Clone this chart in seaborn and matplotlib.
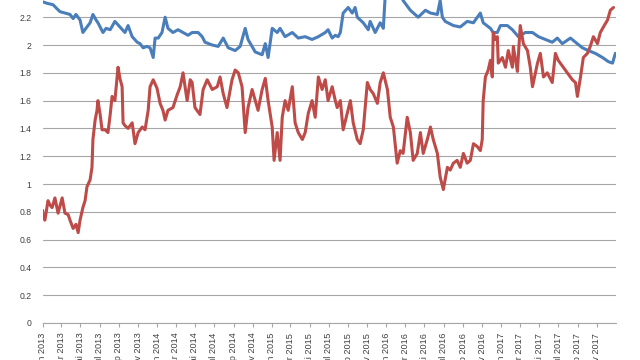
import numpy as np
import pandas as pd
import matplotlib
matplotlib.use("Agg")
import matplotlib.pyplot as plt
import matplotlib.dates as mdates
import seaborn as sns

# ---- data (day offsets from 2013-01-01, values) ----
blue_days = [1, 14, 33, 46, 55, 71, 87, 97, 106, 119, 128, 141, 151, 160, 170, 176, 192, 202, 215, 230,
             246, 262, 272, 285, 301, 310, 320, 332, 342, 352, 358, 368, 380, 390, 399, 415, 431, 447, 463, 476,
             495, 508, 517, 540, 559, 575, 591, 613, 629, 645, 654, 677, 699, 709, 718, 731, 747, 756, 772, 795,
             814, 836, 858, 878, 900, 909, 922, 932, 941, 948, 957, 973, 986, 995, 1002, 1021, 1037, 1043, 1059, 1075,
             1085, 1091, 1107, 1123, 1139, 1148, 1171, 1196, 1219, 1235, 1257, 1266, 1273, 1282, 1308, 1330, 1352, 1372, 1378, 1394,
             1403, 1426, 1435, 1448, 1458, 1480, 1496, 1515, 1537, 1560, 1579, 1601, 1623, 1639, 1655, 1681, 1697, 1719, 1738, 1760,
             1783, 1802, 1815, 1824]
blue_vals = [2.31, 2.30, 2.29, 2.26, 2.24, 2.23, 2.22, 2.19, 2.22, 2.18, 2.09, 2.13, 2.16, 2.22, 2.18, 2.16, 2.09, 2.12, 2.11, 2.17,
             2.13, 2.09, 2.14, 2.06, 2.02, 2.01, 1.98, 1.99, 1.98, 1.91, 2.05, 2.05, 2.09, 2.20, 2.12, 2.09, 2.11, 2.09, 2.07, 2.09,
             2.09, 2.06, 2.02, 2.00, 1.99, 2.05, 1.98, 1.96, 1.99, 2.12, 2.04, 1.95, 1.93, 2.01, 1.91, 2.12, 2.09, 2.12, 2.06, 2.09,
             2.05, 2.06, 2.04, 2.06, 2.09, 2.11, 2.05, 2.07, 2.06, 2.09, 2.23, 2.27, 2.23, 2.27, 2.20, 2.16, 2.11, 2.17, 2.09, 2.16,
             2.12, 2.36, 2.40, 2.42, 2.38, 2.32, 2.25, 2.20, 2.25, 2.23, 2.22, 2.32, 2.20, 2.17, 2.14, 2.13, 2.17, 2.16, 2.18, 2.23,
             2.16, 2.12, 2.09, 2.09, 2.14, 2.14, 2.11, 2.06, 2.09, 2.09, 2.06, 2.04, 2.02, 2.05, 2.01, 2.05, 2.02, 1.98, 1.96, 1.94,
             1.91, 1.88, 1.87, 1.94]

red_days = [0, 1, 7, 17, 23, 30, 39, 49, 62, 71, 81, 87, 97, 106, 113, 119, 128, 135, 141, 151,
            157, 160, 167, 173, 176, 183, 189, 199, 208, 215, 221, 230, 240, 246, 253, 256, 262, 272, 285, 294,
            304, 317, 326, 336, 342, 352, 364, 374, 383, 390, 399, 415, 428, 438, 447, 460, 470, 476, 485, 501,
            511, 524, 540, 556, 565, 575, 587, 603, 613, 623, 635, 645, 654, 667, 677, 686, 699, 709, 718, 731,
            737, 747, 756, 763, 772, 782, 795, 804, 814, 827, 836, 846, 858, 868, 878, 890, 900, 909, 922, 932,
            938, 948, 957, 970, 980, 989, 1002, 1011, 1021, 1034, 1043, 1053, 1066, 1075, 1085, 1098, 1107, 1117, 1129, 1139,
            1148, 1161, 1171, 1180, 1193, 1203, 1212, 1225, 1235, 1244, 1257, 1266, 1276, 1289, 1298, 1308, 1320, 1330, 1340, 1352,
            1362, 1372, 1384, 1394, 1400, 1403, 1410, 1419, 1426, 1432, 1435, 1442, 1448, 1451, 1464, 1474, 1483, 1496, 1499, 1512,
            1521, 1531, 1544, 1553, 1560, 1576, 1585, 1595, 1607, 1623, 1633, 1642, 1658, 1671, 1687, 1697, 1703, 1713, 1722, 1735,
            1744, 1754, 1767, 1776, 1786, 1799, 1808, 1818]
red_vals = [0.81, 0.76, 0.74, 0.88, 0.85, 0.83, 0.90, 0.79, 0.90, 0.79, 0.78, 0.74, 0.68, 0.71, 0.65, 0.74, 0.83, 0.88, 0.98, 1.03,
            1.12, 1.32, 1.46, 1.53, 1.60, 1.50, 1.39, 1.39, 1.37, 1.50, 1.63, 1.60, 1.84, 1.76, 1.70, 1.44, 1.42, 1.40, 1.44, 1.29,
            1.37, 1.41, 1.39, 1.53, 1.70, 1.75, 1.69, 1.58, 1.53, 1.46, 1.53, 1.55, 1.64, 1.70, 1.80, 1.60, 1.75, 1.73, 1.55, 1.50,
            1.68, 1.75, 1.68, 1.70, 1.77, 1.65, 1.55, 1.75, 1.82, 1.80, 1.70, 1.37, 1.55, 1.68, 1.60, 1.53, 1.68, 1.76, 1.60, 1.41,
            1.17, 1.37, 1.17, 1.48, 1.60, 1.53, 1.70, 1.44, 1.37, 1.32, 1.37, 1.51, 1.60, 1.48, 1.77, 1.68, 1.75, 1.60, 1.70, 1.60,
            1.55, 1.60, 1.39, 1.51, 1.60, 1.44, 1.32, 1.29, 1.39, 1.73, 1.68, 1.65, 1.58, 1.73, 1.80, 1.68, 1.48, 1.41, 1.15, 1.24,
            1.22, 1.48, 1.37, 1.17, 1.22, 1.37, 1.22, 1.32, 1.41, 1.32, 1.22, 1.05, 0.96, 1.12, 1.10, 1.15, 1.17, 1.12, 1.22, 1.15,
            1.17, 1.29, 1.27, 1.24, 1.32, 1.60, 1.77, 1.82, 1.89, 1.77, 2.09, 2.04, 2.06, 1.87, 1.91, 1.84, 1.96, 1.84, 1.99, 1.81,
            2.14, 2.01, 1.96, 1.84, 1.70, 1.87, 1.94, 1.77, 1.80, 1.73, 1.94, 1.89, 1.84, 1.80, 1.75, 1.73, 1.63, 1.77, 1.91, 1.94,
            1.99, 2.06, 2.01, 2.09, 2.13, 2.18, 2.25, 2.27]

series_names = ["Serie 1", "Serie 2"]
month_abbr = ["jan", "feb", "mar", "apr", "mai", "jun", "jul", "aug", "sep", "okt", "nov", "des"]
y_ticks = [0, 0.2, 0.4, 0.6, 0.8, 1, 1.2, 1.4, 1.6, 1.8, 2, 2.2, 2.4]

start = pd.Timestamp("2013-01-01")
df = pd.concat([
    pd.DataFrame({"date": start + pd.to_timedelta(blue_days, unit="D"), "value": blue_vals, "series": series_names[0]}),
    pd.DataFrame({"date": start + pd.to_timedelta(red_days, unit="D"), "value": red_vals, "series": series_names[1]}),
])

sns.set_style("white")
plt.rcParams["font.family"] = ["Liberation Sans", "DejaVu Sans"]

fig = plt.figure(figsize=(6.4, 3.6), dpi=100)
ax = fig.add_axes([0.0667, 0.1028, 0.8953, 0.9266])

sns.lineplot(data=df, x="date", y="value", hue="series", estimator=None,
             palette={"Serie 1": "#4A7EBB", "Serie 2": "#BE4B48"},
             linewidth=2.2, legend=False, ax=ax)

ax.set_xlim(pd.Timestamp("2013-01-01"), pd.Timestamp("2017-12-31"))
ax.set_ylim(0, 2.4)
ax.set_xlabel("")
ax.set_ylabel("")

ax.set_yticks(y_ticks)
ax.set_yticklabels([f"{v:g}" for v in y_ticks])
ax.yaxis.grid(True, color="#A6A6A6", linewidth=0.8)
ax.xaxis.grid(False)
ax.set_axisbelow(True)

tick_dates = pd.date_range("2013-01-01", "2017-12-01", freq="2MS")
ax.set_xticks(tick_dates)
ax.set_xticklabels([f"{month_abbr[d.month - 1]} {d.year}" for d in tick_dates], rotation=90, va="top", ha="center")

for s in ["left", "right", "top"]:
    ax.spines[s].set_visible(False)
ax.spines["bottom"].set_color("#A6A6A6")
ax.spines["bottom"].set_linewidth(0.8)

ax.tick_params(axis="x", direction="out", length=3, width=0.8, color="#A6A6A6",
               labelsize=6.6, labelcolor="#404040", pad=4, bottom=True)
ax.tick_params(axis="y", length=0, labelsize=6.2, labelcolor="#404040", pad=8)

fig.savefig("out.png", dpi=100)
